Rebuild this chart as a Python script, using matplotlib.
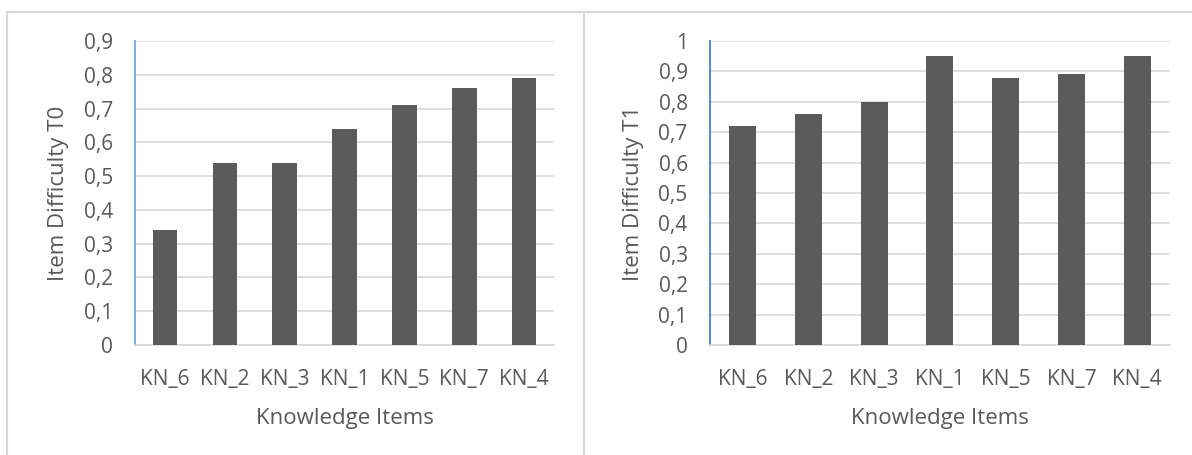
"""
Item difficulty per knowledge item, pre-test (T0) vs post-test (T1).
Two Excel-style bar panels side by side.
"""

import matplotlib
matplotlib.use("Agg")
import matplotlib.pyplot as plt
from matplotlib.ticker import FuncFormatter, MultipleLocator
from matplotlib.lines import Line2D

# ── DATA ──────────────────────────────────────────────────────────────────────
items_t0 = ["KN_6", "KN_2", "KN_3", "KN_1", "KN_5", "KN_7", "KN_4"]
difficulty_t0 = [0.34, 0.54, 0.54, 0.64, 0.71, 0.76, 0.79]

items_t1 = ["KN_6", "KN_2", "KN_3", "KN_1", "KN_5", "KN_7", "KN_4"]
difficulty_t1 = [0.72, 0.76, 0.80, 0.95, 0.88, 0.89, 0.95]

ylabel_t0 = "Item Difficulty T0"
ylabel_t1 = "Item Difficulty T1"
xlabel = "Knowledge Items"

# ── STYLE ─────────────────────────────────────────────────────────────────────
BAR_COLOR  = "#5b5b5b"
TEXT_COLOR = "#595959"
GRID_COLOR = "#d9d9d9"
TICK_SIZE  = 15
LABEL_SIZE = 16

plt.rcParams["font.family"] = ["Open Sans", "DejaVu Sans"]


def comma_fmt(v, _pos):
    s = f"{v:.1f}".rstrip("0").rstrip(".")
    return s.replace(".", ",")


def draw_panel(ax, cats, values, ymax, ylabel, spine_color, label_x):
    x = range(len(cats))
    ax.bar(x, values, width=0.41, color=BAR_COLOR, zorder=3)
    ax.set_xlim(-0.5, len(cats) - 0.5)
    ax.set_ylim(0, ymax)
    ax.yaxis.set_major_locator(MultipleLocator(0.1))
    ax.yaxis.set_major_formatter(FuncFormatter(comma_fmt))
    ax.set_xticks(list(x))
    ax.set_xticklabels(cats)

    ax.grid(axis="y", color=GRID_COLOR, linewidth=1.2, zorder=0)
    for side in ("top", "right"):
        ax.spines[side].set_visible(False)
    ax.spines["bottom"].set_color(GRID_COLOR)
    ax.spines["bottom"].set_linewidth(1.2)
    ax.spines["left"].set_color(spine_color)
    ax.spines["left"].set_linewidth(1.3)

    ax.tick_params(axis="both", length=0, labelsize=TICK_SIZE, colors=TEXT_COLOR)
    ax.tick_params(axis="y", pad=16)
    ax.tick_params(axis="x", pad=17)

    ax.set_ylabel(ylabel, fontsize=LABEL_SIZE, color=TEXT_COLOR)
    ax.yaxis.set_label_coords(label_x, 0.5)
    ax.yaxis.label.set_va("center")
    ax.set_xlabel(xlabel, fontsize=LABEL_SIZE, color=TEXT_COLOR, labelpad=13)


fig = plt.figure(figsize=(11.92, 4.55), dpi=100)

ax0 = fig.add_axes([0.1133, 0.2418, 0.3515, 0.668])
ax1 = fig.add_axes([0.5956, 0.2418, 0.3859, 0.668])

draw_panel(ax0, items_t0, difficulty_t0, 0.9, ylabel_t0, "#6fa8dc", -0.183)
draw_panel(ax1, items_t1, difficulty_t1, 1.0, ylabel_t1, "#4a7fd0", -0.167)

# chart-area borders (Excel frames, cropped at bottom and right)
frame = dict(color=GRID_COLOR, linewidth=1.6, transform=fig.transFigure)
fig.add_artist(Line2D([7 / 1192, 1.0], [1 - 12 / 455] * 2, **frame))
fig.add_artist(Line2D([7 / 1192] * 2, [0, 1 - 12 / 455], **frame))
fig.add_artist(Line2D([584 / 1192] * 2, [0, 1 - 12 / 455], **frame))

fig.savefig("out.png", dpi=100)
